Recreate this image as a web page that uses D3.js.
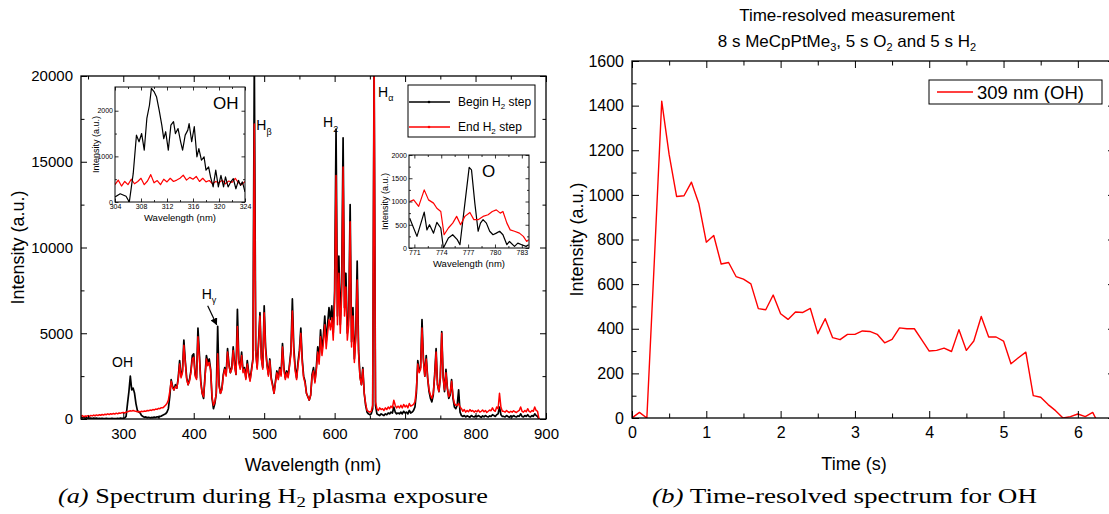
<!DOCTYPE html>
<html><head><meta charset="utf-8">
<script src="https://cdn.jsdelivr.net/npm/d3@7"></script>
<style>
body{margin:0;background:#fff}
svg{display:block}
text{font-family:"Liberation Sans",Arial,sans-serif;fill:#000}
</style></head>
<body><svg id="c" width="1109" height="514"></svg>
<script>
// ---------------- DATA ----------------
// Full spectrum, 2 nm sampling 240..890 nm
const wavelengths = d3.range(240, 891, 2);
const beginH2 = [
 80,60,90,50,70,40,60,50,30,60, 40,50,30,40,20,40,30,20,40,20, 30,20,40,30,20,30,40,30,50,40,
 40,60,150,900,1600,2500,1700,1800,1500,900, 500,400,350,200,150,100,120,80,100,70, 90,80,110,90,130,110,150,170,220,260,
 300,400,600,1300,2300,1900,1700,2000,1800,2400, 3400,2500,2800,4600,3400,2400,2000,2300,2800,3700, 3800,2600,2400,5300,3800,2200,1500,1200,2500,3700,
 3300,3500,2900,1200,600,900,1500,5400,2000,1500, 1800,2600,3000,2600,4100,3200,2700,3000,4200,3200, 2600,6400,3400,3000,3900,2800,3000,2400,3400,2700,
 2300,2900,3500,21000,4000,3000,4500,6200,3600,3000, 6600,4200,3200,2600,3500,2400,2000,1500,2200,2800, 2400,3000,2600,4400,3000,2400,2800,2500,3200,4000,
 7000,4200,3000,2400,3300,4000,5300,3500,2500,2200, 1500,1300,1100,1400,2600,3000,2200,3000,4200,3500, 5200,4000,4800,6000,4500,5500,6500,5800,6600,5000,
 7500,16900,6000,9500,5500,8000,16400,6500,8500,5000, 6000,12500,4500,6500,3500,5000,9200,4000,2500,2000, 3000,1500,800,400,300,250,300,600,21000,800,
 300,250,200,300,250,200,300,250,350,300, 400,350,700,400,300,350,300,400,300,450, 350,400,300,500,350,400,500,700,1500,3400,
 2800,3000,5800,3500,2500,3700,2400,1600,1200,1000, 1400,2600,4100,2000,1600,2400,5100,2500,1600,2900, 1800,1200,1400,2300,1200,700,600,800,1700,400,
 200,150,200,120,180,150,100,200,150,120, 180,140,200,150,100,180,130,200,150,120, 180,150,250,200,150,250,300,700,250,150,
 150,120,200,150,100,180,130,200,150,120, 180,150,300,150,120,200,150,250,150,120, 200,150,300,200,150,
 0
];
const endH2 = [
 150,200,130,180,160,200,150,210,180,230, 190,240,200,250,220,260,230,280,250,300, 260,310,280,320,290,340,300,350,330,370,
 380,350,400,420,450,480,460,500,470,450, 420,440,410,450,430,470,450,500,480,520, 500,550,530,580,560,620,600,660,650,720,
 800,900,1100,1600,2200,1800,1700,1900,1800,2300, 3200,2400,2700,4300,3300,2300,2000,2200,2700,3500, 3600,2500,2300,4800,3600,2100,1500,1300,2400,3500,
 3100,3300,2800,1300,800,1000,1500,3800,1900,1500, 1700,2500,2900,2500,3900,3100,2700,2900,4000,3100, 2600,5400,3300,2900,3700,2700,2900,2300,3200,2600,
 2200,2800,3400,17200,3900,2900,4300,6000,3500,2900, 6200,4000,3100,2500,3400,2300,1900,1500,2100,2700, 2300,2900,2500,4200,2900,2300,2700,2400,3100,3800,
 6300,3900,2800,2300,3100,3800,5000,3300,2400,2100, 1500,1300,1100,1400,2500,2800,2100,2800,3900,3200, 4800,3700,4400,5500,4100,5000,5800,5200,5900,4600,
 6800,14200,5500,8500,5000,7200,14700,6000,7700,4600, 5500,11500,4200,6000,3300,4700,8100,3800,2400,2000, 2900,1500,900,500,450,400,450,800,21000,1000,
 600,500,650,550,600,500,650,550,700,600, 750,650,1100,800,650,750,650,800,650,850, 700,800,650,900,750,800,850,1000,1700,3200,
 2700,2900,5300,3400,2500,3500,2400,1700,1400,1200, 1500,2500,3900,2000,1600,2400,5000,2400,1700,2700, 1800,1300,1500,2200,1300,900,800,800,900,700,
 600,450,550,400,500,420,550,450,500,400, 480,420,520,400,450,520,420,500,380,450, 520,480,650,500,450,700,600,1500,700,450,
 450,400,500,420,380,450,400,480,420,380, 450,500,700,450,400,500,420,600,450,400, 500,450,700,500,450,
 0
];
// OH inset (304-324 nm)
const ohWlBegin = [304.0,304.8,305.7,306.2,306.8,307.3,307.7,308.1,308.5,308.9,309.3,309.6,310.0,310.4,310.8,311.2,311.5,311.8,312.2,312.6,313.0,313.3,313.7,314.1,314.4,314.8,315.2,315.4,315.8,316.2,316.6,316.9,317.3,317.7,318.0,318.4,318.7,319.1,319.5,319.9,320.3,320.7,321.0,321.4,321.8,322.2,322.6,323.0,323.3,323.6,324.0];
const ohBegin = [110,180,125,0,620,1465,1320,1500,1135,1830,2120,2490,2420,2300,2010,1685,1390,1540,1135,1685,1760,1500,1610,1320,1135,1465,1575,1720,1320,1650,990,1170,915,990,700,770,550,330,700,330,585,330,550,330,440,510,290,475,365,440,220];
const ohWlEnd = [304,304.5,305,305.5,306,306.5,307,307.5,308,308.5,309,309.5,310,310.5,311,311.5,312,312.5,313,313.5,314,314.5,315,315.5,316,316.5,317,317.5,318,318.5,319,319.5,320,320.5,321,321.5,322,322.5,323,323.5,324];
const ohEnd = [380,480,350,450,380,500,400,450,520,380,460,600,420,470,380,500,440,520,450,480,520,590,480,540,500,560,450,520,440,470,400,450,420,480,400,460,430,520,420,380,450];
// O inset (770-784 nm)
const oWlBegin = [770.48,771.29,772.10,772.40,772.69,773.14,773.51,773.95,774.24,774.80,775.28,775.79,776.09,776.64,777.12,777.38,777.75,778.12,778.38,778.67,779.04,779.41,779.78,780.15,780.52,780.89,781.33,781.62,782.18,782.55,782.99,783.47,783.76];
const oBegin = [640,250,770,390,500,320,550,430,0,215,285,180,70,960,1735,1680,965,360,535,610,535,360,285,320,360,285,70,140,35,105,70,35,70];
const oWlEnd = [770.48,770.92,771.48,772.10,772.58,773.14,773.51,773.95,774.32,774.80,775.28,775.72,776.16,776.64,777.20,777.64,778.12,778.67,779.23,779.70,780.15,780.59,780.89,781.33,781.70,782.18,782.73,783.17,783.54,783.76];
const oEnd = [1000,1035,895,1250,1035,965,855,785,285,430,535,680,500,680,765,610,610,680,715,785,820,750,785,535,390,360,320,250,140,180];
// Time-resolved 309 nm (OH)
const times = [0,0.1,0.2,0.3,0.4,0.5,0.6,0.7,0.8,0.9,1.0,1.1,1.2,1.3,1.4,1.5,1.6,1.7,1.8,1.9,2.0,2.1,2.2,2.3,2.4,2.5,2.6,2.7,2.8,2.9,3.0,3.1,3.2,3.3,3.4,3.5,3.6,3.7,3.8,3.9,4.0,4.1,4.2,4.3,4.4,4.5,4.6,4.7,4.8,4.9,5.0,5.1,5.2,5.3,5.4,5.5,5.6,5.7,5.8,5.9,6.0,6.1,6.2,6.3];
const oh309 = [0,25,0,700,1420,1180,993,996,1057,960,788,818,690,697,634,622,601,490,485,551,467,442,475,473,491,378,445,360,351,375,375,390,388,375,337,352,404,400,400,350,300,303,313,298,396,303,345,455,363,363,345,243,270,295,100,93,60,33,0,6,18,6,25,-40];
// Ticks
const specXTicks = [300,400,500,600,700,800,900];
const specXMinor = [250,350,450,550,650,750,850];
const specYTicks = [0,5000,10000,15000,20000];
const specYMinor = [2500,7500,12500,17500];
const ohXTicks = [304,308,312,316,320,324];
const ohXMinor = [306,310,314,318,322];
const ohYTicks = [0,1000,2000];
const ohYMinor = [500,1500];
const oXTicks = [771,774,777,780,783];
const oXMinor = [772.5,775.5,778.5,781.5];
const oYTicks = [0,500,1000,1500,2000];
const oYMinor = [250,750,1250,1750];
const tXTicks = [0,1,2,3,4,5,6];
const tXMinor = [0.5,1.5,2.5,3.5,4.5,5.5];
const tYTicks = [0,200,400,600,800,1000,1200,1400,1600];
const tYMinor = [100,300,500,700,900,1100,1300,1500];

// ---------------- HELPERS ----------------
const svg = d3.select('#c');
let clipId = 0;
function framed(g, x, y, o) {
  const w = o.w, h = o.h;
  const specs = [
    {a: d3.axisBottom, t:`translate(0,${h})`, s:x, maj:o.xMaj, min:o.xMin, fmt:o.xFmt, pad:o.xPad},
    {a: d3.axisTop, t:null, s:x, maj:o.xMaj, min:o.xMin, fmt:()=>'', pad:0},
    {a: d3.axisLeft, t:null, s:y, maj:o.yMaj, min:o.yMin, fmt:o.yFmt, pad:o.yPad},
    {a: d3.axisRight, t:`translate(${w},0)`, s:y, maj:o.yMaj, min:o.yMin, fmt:()=>'', pad:0}
  ];
  specs.forEach(sp => {
    const ga = g.append('g');
    if (sp.t) ga.attr('transform', sp.t);
    ga.call(sp.a(sp.s).tickValues(sp.maj).tickSize(-o.ml).tickSizeOuter(0).tickPadding(sp.pad).tickFormat(sp.fmt));
    ga.append('g').call(sp.a(sp.s).tickValues(sp.min).tickSize(-o.mn).tickSizeOuter(0).tickFormat(''));
    ga.selectAll('.domain').remove();
    ga.selectAll('line').attr('stroke','#000').attr('stroke-width', o.tw);
    ga.selectAll('text').style('font-size', o.fs+'px').style('font-family','"Liberation Sans",Arial,sans-serif').attr('fill','#000');
  });
  g.append('rect').attr('width', w).attr('height', h).attr('fill','none').attr('stroke','#000').attr('stroke-width', o.bw);
}
function clipFor(g, w, h) {
  const id = 'clip' + (clipId++);
  g.append('clipPath').attr('id', id).append('rect').attr('width', w).attr('height', h);
  return 'url(#' + id + ')';
}
function subText(g, x, y, main, sub, fs, subfs, anchor) {
  const t = g.append('text').attr('x', x).attr('y', y).style('font-size', fs+'px');
  if (anchor) t.attr('text-anchor', anchor);
  t.append('tspan').text(main);
  t.append('tspan').attr('dy', fs*0.3).style('font-size', subfs+'px').text(sub);
  return t;
}

// ---------------- LEFT: SPECTRUM ----------------
const L = {x:81, y:76, w:465, h:343};
const gL = svg.append('g').attr('transform', `translate(${L.x},${L.y})`);
const xS = d3.scaleLinear().domain([240, 900]).range([0, L.w]);
const yS = d3.scaleLinear().domain([0, 20000]).range([L.h, 0]);
const cpL = clipFor(gL, L.w, L.h);
const specLine = arr => d3.line().x((d,i)=>xS(wavelengths[i])).y(d=>yS(d))(arr);
const dataL = gL.append('g').attr('clip-path', cpL);
dataL.append('path').attr('d', specLine(beginH2)).attr('fill','none').attr('stroke','#000').attr('stroke-width',1.7).attr('stroke-linejoin','round');
dataL.append('path').attr('d', specLine(endH2)).attr('fill','none').attr('stroke','#ff0000').attr('stroke-width',1.5).attr('stroke-linejoin','round');
framed(gL, xS, yS, {w:L.w, h:L.h, xMaj:specXTicks, xMin:specXMinor, yMaj:specYTicks, yMin:specYMinor,
  xFmt:d3.format('d'), yFmt:d3.format('d'), xPad:9, yPad:8, ml:6, mn:3.5, tw:1, bw:1.3, fs:15});
svg.append('text').attr('x', 313).attr('y', 471).attr('text-anchor','middle').style('font-size','18px').text('Wavelength (nm)');
svg.append('text').attr('transform', `translate(24,${L.y + L.h/2}) rotate(-90)`).attr('text-anchor','middle').style('font-size','18px').text('Intensity (a.u.)');

// annotations
gL.append('text').attr('x', xS(299)).attr('y', yS(3050)).attr('text-anchor','middle').style('font-size','14px').text('OH');
subText(gL, xS(434) - 16, yS(7000), 'H', 'γ', 14, 9);
gL.append('defs').append('marker').attr('id','arr').attr('viewBox','0 0 10 10').attr('refX',9).attr('refY',5)
  .attr('markerWidth',6).attr('markerHeight',6).attr('orient','auto')
  .append('path').attr('d','M0,0L10,5L0,10z').attr('fill','#000');
gL.append('line').attr('x1', xS(434) - 10).attr('y1', yS(6600)).attr('x2', xS(434) - 1).attr('y2', yS(5500))
  .attr('stroke','#000').attr('stroke-width',1.2).attr('marker-end','url(#arr)');
subText(gL, xS(486) + 2, yS(17300) + 8, 'H', 'β', 14, 9);
subText(gL, xS(602) - 13, yS(17000), 'H', '2', 14, 9);
subText(gL, xS(656) + 4, yS(18800), 'H', 'α', 14, 9);

// legend
const lg = gL.append('g').attr('transform', `translate(${408 - L.x},${85 - L.y})`);
lg.append('rect').attr('width',127).attr('height',52).attr('fill','#fff').attr('stroke','#000').attr('stroke-width',1);
[['Begin H','2',' step','#000',17],['End H','2',' step','#ff0000',42]].forEach(r => {
  lg.append('line').attr('x1',1).attr('x2',42).attr('y1',r[4]).attr('y2',r[4]).attr('stroke',r[3]).attr('stroke-width',1.3);
  lg.append('circle').attr('cx',21).attr('cy',r[4]).attr('r',1.3).attr('fill',r[3]);
  const t = lg.append('text').attr('x',50).attr('y',r[4]+4).style('font-size','12px');
  t.append('tspan').text(r[0]);
  t.append('tspan').attr('dy',3).style('font-size','8px').text(r[1]);
  t.append('tspan').attr('dy',-3).text(r[2]);
});

// insets
function inset(box, xd, yd, series, xt, xm, yt, ym, label, labelPos) {
  const g = svg.append('g').attr('transform', `translate(${box.x},${box.y})`);
  g.append('rect').attr('width', box.w).attr('height', box.h).attr('fill','#fff');
  const x = d3.scaleLinear().domain(xd).range([0, box.w]);
  const y = d3.scaleLinear().domain(yd).range([box.h, 0]);
  const cp = clipFor(g, box.w, box.h);
  const dg = g.append('g').attr('clip-path', cp);
  series.forEach(s => {
    dg.append('path').attr('d', d3.line().x((d,i)=>x(s.wl[i])).y(d=>y(d))(s.v))
      .attr('fill','none').attr('stroke', s.c).attr('stroke-width',1.2).attr('stroke-linejoin','round');
  });
  framed(g, x, y, {w:box.w, h:box.h, xMaj:xt, xMin:xm, yMaj:yt, yMin:ym,
    xFmt:d3.format('d'), yFmt:d3.format('d'), xPad:2.5, yPad:2, ml:3.5, mn:2, tw:0.8, bw:1, fs:7});
  g.append('text').attr('x', box.w/2).attr('y', box.h + 19).attr('text-anchor','middle').style('font-size','9.5px').text('Wavelength (nm)');
  g.append('text').attr('transform', `translate(${box.lx},${box.h/2}) rotate(-90)`).attr('text-anchor','middle').style('font-size','9px').text('Intensity (a.u.)');
  g.append('text').attr('x', labelPos[0]).attr('y', labelPos[1]).style('font-size','17px').text(label);
}
inset({x:115, y:87, w:130, h:115, lx:-16}, [304, 324], [0, 2520],
  [{wl:ohWlEnd, v:ohEnd, c:'#ff0000'}, {wl:ohWlBegin, v:ohBegin, c:'#000'}],
  ohXTicks, ohXMinor, ohYTicks, ohYMinor, 'OH', [98, 22]);
inset({x:409, y:155, w:120, h:93, lx:-21}, [770.4, 783.8], [0, 2000],
  [{wl:oWlBegin, v:oBegin, c:'#000'}, {wl:oWlEnd, v:oEnd, c:'#ff0000'}],
  oXTicks, oXMinor, oYTicks, oYMinor, 'O', [73, 22]);

// ---------------- RIGHT: TIME-RESOLVED ----------------
const R = {x:632, y:61, w:483, h:357};
const gR = svg.append('g').attr('transform', `translate(${R.x},${R.y})`);
const tS = d3.scaleLinear().domain([0, 6.5]).range([0, R.w]);
const iS = d3.scaleLinear().domain([0, 1600]).range([R.h, 0]);
const cpR = clipFor(gR, R.w, R.h);
gR.append('g').attr('clip-path', cpR).append('path')
  .attr('d', d3.line().x((d,i)=>tS(times[i])).y(d=>iS(d))(oh309))
  .attr('fill','none').attr('stroke','#ff0000').attr('stroke-width',1.4).attr('stroke-linejoin','round');
framed(gR, tS, iS, {w:R.w, h:R.h, xMaj:tXTicks, xMin:tXMinor, yMaj:tYTicks, yMin:tYMinor,
  xFmt:d3.format('d'), yFmt:d3.format('d'), xPad:9, yPad:8, ml:7, mn:4.5, tw:1, bw:1.3, fs:16});
svg.append('text').attr('x', 854).attr('y', 470).attr('text-anchor','middle').style('font-size','18px').text('Time (s)');
svg.append('text').attr('transform', `translate(583,${R.y + R.h/2}) rotate(-90)`).attr('text-anchor','middle').style('font-size','18px').text('Intensity (a.u.)');
svg.append('text').attr('x', 847).attr('y', 21).attr('text-anchor','middle').style('font-size','17px').text('Time-resolved measurement');
{
  const t = svg.append('text').attr('x', 847).attr('y', 47).attr('text-anchor','middle').style('font-size','17px');
  t.append('tspan').text('8 s MeCpPtMe');
  t.append('tspan').attr('dy',4).style('font-size','11px').text('3');
  t.append('tspan').attr('dy',-4).text(', 5 s O');
  t.append('tspan').attr('dy',4).style('font-size','11px').text('2');
  t.append('tspan').attr('dy',-4).text(' and 5 s H');
  t.append('tspan').attr('dy',4).style('font-size','11px').text('2');
}
// legend right
const lr = svg.append('g').attr('transform','translate(929,80)');
lr.append('rect').attr('width',173).attr('height',24).attr('fill','#fff').attr('stroke','#000').attr('stroke-width',1);
lr.append('line').attr('x1',8).attr('x2',44).attr('y1',12).attr('y2',12).attr('stroke','#ff0000').attr('stroke-width',1.4);
lr.append('text').attr('x',48).attr('y',18.5).style('font-size','18.5px').text('309 nm (OH)');

// ---------------- CAPTIONS ----------------
{
  const t = svg.append('text').attr('x', 58).attr('y', 503)
    .attr('textLength', 430).attr('lengthAdjust','spacingAndGlyphs')
    .style('font-family','"Liberation Serif","DejaVu Serif",serif').style('font-size','21px');
  t.append('tspan').style('font-style','italic').text('(a)');
  t.append('tspan').text(' Spectrum during H');
  t.append('tspan').attr('dy',4).style('font-size','15px').text('2');
  t.append('tspan').attr('dy',-4).text(' plasma exposure');
}
{
  const t = svg.append('text').attr('x', 652).attr('y', 503)
    .attr('textLength', 385).attr('lengthAdjust','spacingAndGlyphs')
    .style('font-family','"Liberation Serif","DejaVu Serif",serif').style('font-size','21px');
  t.append('tspan').style('font-style','italic').text('(b)');
  t.append('tspan').text(' Time-resolved spectrum for OH');
}
</script></body></html>
